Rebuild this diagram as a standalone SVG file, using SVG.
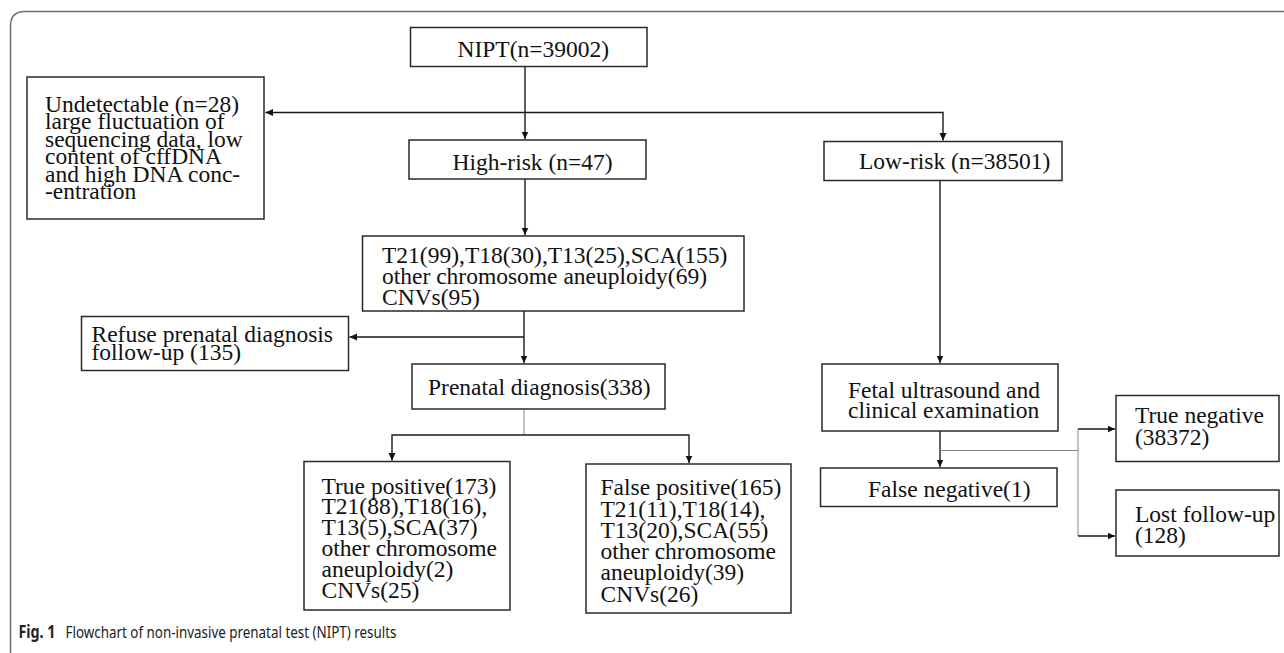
<svg xmlns="http://www.w3.org/2000/svg" width="1284" height="653" viewBox="0 0 1284 653">
  <defs>
    <marker id="arr" markerUnits="userSpaceOnUse" markerWidth="8" markerHeight="8" refX="7.5" refY="3.5" orient="auto">
      <path d="M0,0 L7.5,3.5 L0,7 z" fill="#111"/>
    </marker>
    <style>
      .box { fill: #fff; stroke: #2a2a2a; stroke-width: 1.5; }
      .t { font-family: "Liberation Serif", "Times New Roman", serif; font-size: 23.5px; fill: #111; }
      .c { fill: none; stroke: #1a1a1a; stroke-width: 1.4; }
      .g { fill: none; stroke: #8a8a8a; stroke-width: 1; }
      .cap { font-family: "Noto Sans", "Open Sans", sans-serif; font-size: 17px; fill: #222; }
    </style>
  </defs>
  <rect width="1284" height="653" fill="#fff"/>
  <path d="M10.5,653 V26 Q10.5,11.5 25,11.5 H1284" fill="none" stroke="#6f6f6f" stroke-width="1.5"/>

  <g id="connectors">
    <path class="c" d="M525,67 V139" marker-end="url(#arr)"/>
    <path class="c" d="M525,112.5 H265.5" marker-end="url(#arr)"/>
    <path class="c" d="M525,112.5 H943 V140.5" marker-end="url(#arr)"/>
    <path class="c" d="M525,179 V235" marker-end="url(#arr)"/>
    <path class="c" d="M524,311 V363" marker-end="url(#arr)"/>
    <path class="c" d="M524,337 H349.5" marker-end="url(#arr)"/>
    <path class="g" d="M524,409 V435"/>
    <path class="c" d="M524,435 H392 V460.5" marker-end="url(#arr)"/>
    <path class="c" d="M524,435 H689 V463" marker-end="url(#arr)"/>
    <path class="c" d="M940,181 V363" marker-end="url(#arr)"/>
    <path class="c" d="M940,431 V467" marker-end="url(#arr)"/>
    <path class="g" d="M940,450.5 H1078"/>
    <path class="g" d="M1078,429 V536"/>
    <path class="c" d="M1078,429 H1115" marker-end="url(#arr)"/>
    <path class="c" d="M1078,536 H1115" marker-end="url(#arr)"/>
  </g>

  <g id="nipt">
    <rect class="box" x="410.5" y="27.5" width="236.5" height="39"/>
    <text class="t" x="457.5" y="57">NIPT(n=39002)</text>
  </g>
  <g id="undetectable">
    <rect class="box" x="27" y="77" width="237" height="142"/>
    <text class="t" x="45" y="111.5">Undetectable (n=28)</text>
    <text class="t" x="45" y="129">large fluctuation of</text>
    <text class="t" x="45" y="146.5">sequencing data, low</text>
    <text class="t" x="45" y="164">content of cffDNA</text>
    <text class="t" x="45" y="181.5">and high DNA conc-</text>
    <text class="t" x="45" y="199">-entration</text>
  </g>
  <g id="high-risk">
    <rect class="box" x="409" y="140" width="237" height="39"/>
    <text class="t" x="452.5" y="169.5">High-risk (n=47)</text>
  </g>
  <g id="low-risk">
    <rect class="box" x="824" y="141.5" width="238" height="39"/>
    <text class="t" x="859" y="168.5">Low-risk (n=38501)</text>
  </g>
  <g id="high-risk-detail">
    <rect class="box" x="362.5" y="236" width="381.5" height="75"/>
    <text class="t" x="382" y="263">T21(99),T18(30),T13(25),SCA(155)</text>
    <text class="t" x="382" y="284">other chromosome aneuploidy(69)</text>
    <text class="t" x="382" y="305">CNVs(95)</text>
  </g>
  <g id="refuse">
    <rect class="box" x="81.5" y="316.5" width="267" height="54"/>
    <text class="t" x="91.5" y="341.5">Refuse prenatal diagnosis</text>
    <text class="t" x="91.5" y="360">follow-up (135)</text>
  </g>
  <g id="prenatal">
    <rect class="box" x="412" y="364" width="253" height="45"/>
    <text class="t" x="428" y="395">Prenatal diagnosis(338)</text>
  </g>
  <g id="fetal">
    <rect class="box" x="822" y="364" width="236" height="67"/>
    <text class="t" x="848" y="398">Fetal ultrasound and</text>
    <text class="t" x="848" y="418">clinical examination</text>
  </g>
  <g id="false-negative">
    <rect class="box" x="820.5" y="468" width="236.5" height="38.5"/>
    <text class="t" x="868" y="496.5">False negative(1)</text>
  </g>
  <g id="true-negative">
    <rect class="box" x="1116" y="395.5" width="163" height="66"/>
    <text class="t" x="1135" y="423">True negative</text>
    <text class="t" x="1135" y="445">(38372)</text>
  </g>
  <g id="lost-follow-up">
    <rect class="box" x="1116" y="490" width="163" height="66"/>
    <text class="t" x="1135" y="522">Lost follow-up</text>
    <text class="t" x="1135" y="543">(128)</text>
  </g>
  <g id="true-positive">
    <rect class="box" x="304" y="461.5" width="206" height="148.5"/>
    <text class="t" x="321.5" y="493.5">True positive(173)</text>
    <text class="t" x="321.5" y="514">T21(88),T18(16),</text>
    <text class="t" x="321.5" y="535">T13(5),SCA(37)</text>
    <text class="t" x="321.5" y="556">other chromosome</text>
    <text class="t" x="321.5" y="577">aneuploidy(2)</text>
    <text class="t" x="321.5" y="598">CNVs(25)</text>
  </g>
  <g id="false-positive">
    <rect class="box" x="586" y="464" width="205" height="149"/>
    <text class="t" x="600.5" y="495">False positive(165)</text>
    <text class="t" x="600.5" y="516.5">T21(11),T18(14),</text>
    <text class="t" x="600.5" y="538">T13(20),SCA(55)</text>
    <text class="t" x="600.5" y="559">other chromosome</text>
    <text class="t" x="600.5" y="580">aneuploidy(39)</text>
    <text class="t" x="600.5" y="601.5">CNVs(26)</text>
  </g>

  <g id="caption">
    <text class="cap" x="18.5" y="638" font-weight="bold" fill="#111" textLength="37" lengthAdjust="spacingAndGlyphs">Fig. 1</text>
    <text class="cap" x="65.5" y="638" textLength="331" lengthAdjust="spacingAndGlyphs">Flowchart of non-invasive prenatal test (NIPT) results</text>
  </g>
</svg>
